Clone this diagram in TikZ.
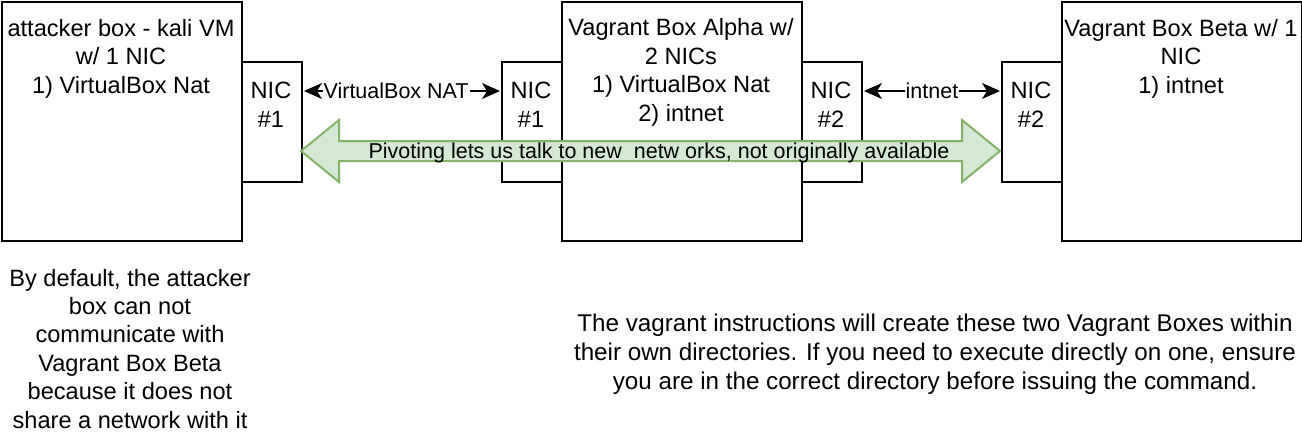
\documentclass[tikz,border=0pt]{standalone}
\usepackage{fontspec}
\setmainfont{Liberation Sans}
\usetikzlibrary{arrows.meta,calc}
\begin{document}
\begin{tikzpicture}[x=1pt,y=-1pt,
  box/.style={draw=black,line width=2pt,fill=white,inner sep=0pt,minimum width=240pt,minimum height=239pt,anchor=north west},
  nic/.style={draw=black,line width=2pt,fill=white,inner sep=0pt,minimum width=60pt,minimum height=120pt,anchor=north west},
  bigtxt/.style={font=\fontsize{23.6}{28.4}\selectfont,align=center,inner sep=0pt,anchor=base},
  smalltxt/.style={font=\fontsize{21.5}{26}\selectfont,inner sep=0pt,anchor=base},
  link/.style={line width=1.5pt,{Stealth[length=18pt,width=16pt,inset=5pt]}-{Stealth[length=18pt,width=16pt,inset=5pt]}},
  pivot/.style={draw={rgb,255:red,130;green,179;blue,102},fill={rgb,255:red,213;green,232;blue,212},line width=2pt,line join=miter}
]
\useasboundingbox (0,0) rectangle (1302,442);
% boxes
\node[box] (att) at (1,1) {};
\node[box] (alpha) at (561,1) {};
\node[box] (beta) at (1061,1) {};
\node[nic] (n1a) at (241,61) {};
\node[nic] (n1b) at (501,61) {};
\node[nic] (n2a) at (801,61) {};
\node[nic] (n2b) at (1001,61) {};
% box texts (base anchor = last line's baseline)
\node[bigtxt] (att-t) at (121,93) {attacker box - kali VM\\w/ 1 NIC\\1) VirtualBox Nat};
\node[bigtxt] (alpha-t) at (681,121) {Vagrant Box Alpha w/\\2 NICs\\1) VirtualBox Nat\\2) intnet};
\node[bigtxt] (beta-t) at (1181,93) {Vagrant Box Beta w/ 1\\NIC\\1) intnet};
\node[bigtxt] (n1a-t) at (271,127) {NIC\\\#1};
\node[bigtxt] (n1b-t) at (531,127) {NIC\\\#1};
\node[bigtxt] (n2a-t) at (831,127) {NIC\\\#2};
\node[bigtxt] (n2b-t) at (1031,127) {NIC\\\#2};
% connectors
\draw[link] ($(n1a.north east)+(1,30)$) coordinate (l1s) -- ($(n1b.north west)+(-1,30)$) coordinate (l1e)
  node[smalltxt,fill=white,pos=0.47,inner xsep=1pt,anchor=center] (l1) {VirtualBox NAT};
\draw[link] ($(n2a.north east)+(1,30)$) coordinate (l2s) -- ($(n2b.north west)+(-1,30)$) coordinate (l2e)
  node[smalltxt,fill=white,midway,inner xsep=1pt,anchor=center] (l2) {intnet};
% pivot double arrow
\draw[pivot] (301,151) -- (339,120) -- (339,141) -- (962,141) -- (962,120) -- (1000,151)
  -- (962,182) -- (962,161) -- (339,161) -- (339,182) -- cycle;
\node[smalltxt] (piv) at (659,158) {Pivoting lets us talk to new\ \ netw orks, not originally available};
% bottom texts
\node[bigtxt] (note1) at (130,428) {By default, the attacker\\box can not\\communicate with\\Vagrant Box Beta\\because it does not\\share a network with it};
\node[bigtxt,font=\fontsize{24.2}{28.6}\selectfont] (note2) at (935,389) {The vagrant instructions will create these two Vagrant Boxes within\\their own directories. If you need to execute directly on one, ensure\\you are in the correct directory before issuing the command.};
\end{tikzpicture}
\end{document}
